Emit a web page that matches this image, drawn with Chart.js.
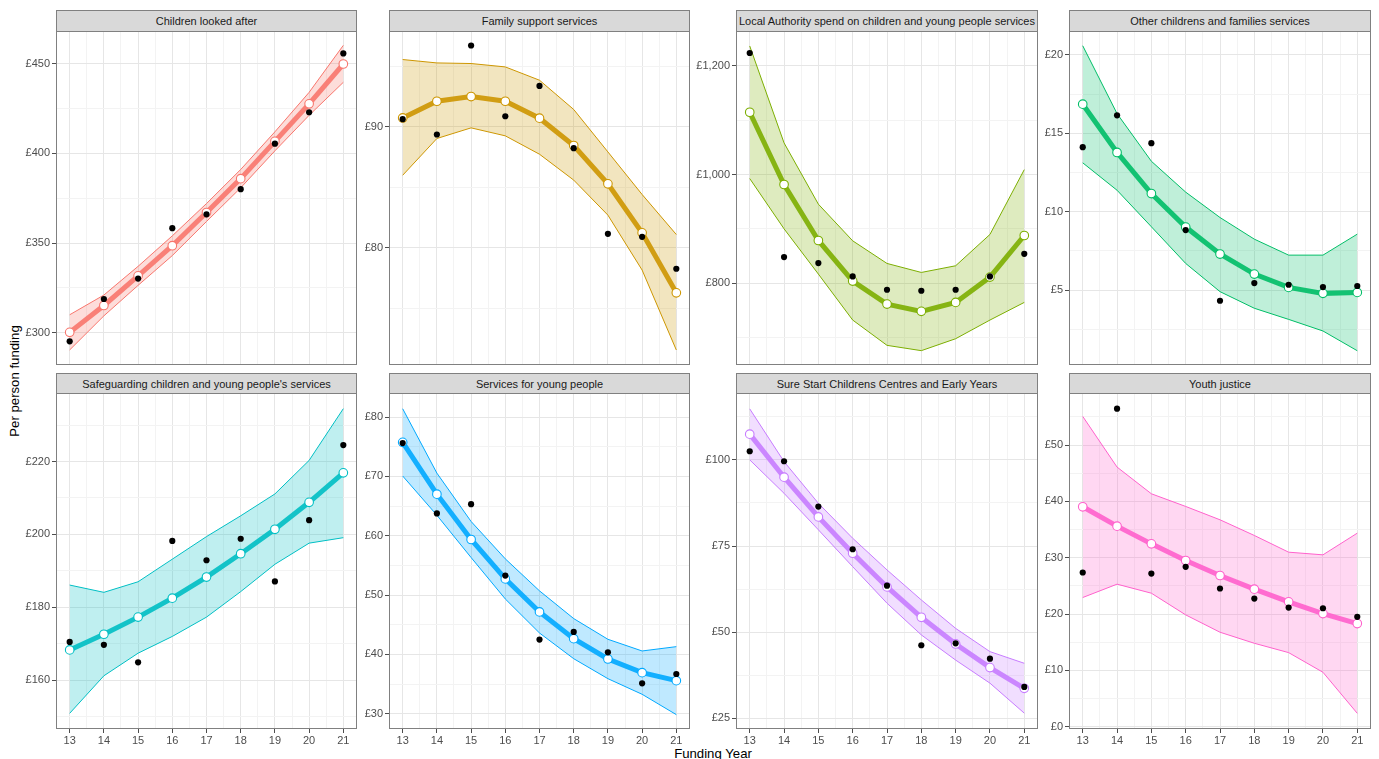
<!DOCTYPE html>
<html>
<head>
<meta charset="utf-8">
<script src="https://cdn.jsdelivr.net/npm/chart.js@4/dist/chart.umd.min.js"></script>
<style>
  html, body { margin:0; padding:0; background:#fff; }
  body { width:1379px; height:759px; overflow:hidden; position:relative; font-family:"Liberation Sans", Arial, sans-serif; }
  canvas { position:absolute; }
  .strip { position:absolute; box-sizing:border-box; background:#D9D9D9; border:1px solid #808080;
           display:flex; align-items:center; justify-content:center; font-size:11px; color:#1a1a1a; white-space:nowrap; }
  .ytitle { position:absolute; left:15px; top:381px; transform:translate(-50%,-50%) rotate(-90deg);
            font-size:13.2px; color:#000; white-space:nowrap; line-height:1; }
  .xtitle { position:absolute; left:713px; top:747px; transform:translateX(-50%);
            font-size:13.2px; color:#000; white-space:nowrap; line-height:1; }
</style>
</head>
<body>
<div class="ytitle">Per person funding</div>
<div class="xtitle">Funding Year</div>
<script>
// ---------------- DATA ----------------
const years = [13, 14, 15, 16, 17, 18, 19, 20, 21];
const xTickLabels = [13, 14, 15, 16, 17, 18, 19, 20, 21];

// Children looked after
const claFit    = [300.2, 315.2, 331.7, 348.5, 367.0, 385.9, 406.7, 427.6, 449.8];
const claActual = [295.2, 318.8, 330.2, 358.3, 366.0, 380.0, 405.4, 422.9, 455.7];
const claUpper  = [310.0, 321.0, 337.0, 354.0, 372.0, 391.0, 412.0, 434.0, 460.2];
const claLower  = [290.4, 309.4, 326.4, 343.0, 362.0, 380.8, 401.4, 421.2, 439.6];
const claTicks  = [300, 350, 400, 450];

// Family support services
const fsFit     = [90.74, 92.12, 92.51, 92.12, 90.72, 88.46, 85.29, 81.24, 76.28];
const fsActual  = [90.64, 89.37, 96.73, 90.88, 93.39, 88.24, 81.16, 80.91, 78.27];
const fsUpper   = [95.57, 95.29, 95.24, 94.96, 93.86, 91.44, 87.93, 84.41, 81.10];
const fsLower   = [86.00, 89.04, 89.92, 89.26, 87.74, 85.60, 82.70, 78.16, 71.55];
const fsTicks   = [80, 90];

// Local Authority spend on children and young people services
const laFit     = [1114.7, 981.6, 878.5, 803.7, 761.3, 747.9, 764.4, 811.0, 887.7];
const laActual  = [1223.9, 847.9, 836.8, 812.3, 787.7, 785.9, 787.7, 812.3, 854.0];
const laUpper   = [1236.8, 1058.3, 945.4, 877.9, 836.2, 819.6, 831.9, 889.6, 1009.0];
const laLower   = [992.6, 900.0, 816.6, 731.9, 685.3, 675.5, 697.5, 731.9, 764.4];
const laTicks   = [800, 1000, 1200];

// Other childrens and families services
const ocFit     = [16.86, 13.78, 11.16, 9.02, 7.30, 6.02, 5.17, 4.79, 4.85];
const ocActual  = [14.12, 16.15, 14.37, 8.83, 4.32, 5.45, 5.34, 5.19, 5.26];
const ocUpper   = [20.59, 16.26, 13.22, 11.25, 9.63, 8.25, 7.23, 7.23, 8.57];
const ocLower   = [13.12, 11.37, 9.04, 6.70, 4.90, 3.84, 3.13, 2.39, 1.13];
const ocTicks   = [5, 10, 15, 20];

// Safeguarding children and young people's services
const sgFit     = [168.3, 172.6, 177.3, 182.5, 188.3, 194.7, 201.4, 208.8, 216.9];
const sgActual  = [170.5, 169.7, 164.9, 198.2, 192.9, 198.8, 187.1, 203.9, 224.5];
const sgUpper   = [186.1, 184.1, 187.0, 193.2, 199.4, 205.1, 211.1, 220.3, 234.5];
const sgLower   = [150.9, 161.2, 167.4, 172.0, 177.3, 184.3, 191.8, 197.6, 199.1];
const sgTicks   = [160, 180, 200, 220];

// Services for young people
const syFit     = [75.73, 67.00, 59.36, 52.72, 47.15, 42.65, 39.22, 36.92, 35.57];
const syActual  = [75.61, 63.75, 65.32, 53.28, 42.49, 43.78, 40.35, 35.12, 36.69];
const syUpper   = [81.40, 70.55, 62.40, 56.10, 50.70, 46.03, 42.54, 40.57, 41.30];
const syLower   = [70.06, 63.45, 56.32, 49.34, 43.60, 39.27, 35.90, 33.27, 29.84];
const syTicks   = [30, 40, 50, 60, 70, 80];

// Sure Start Childrens Centres and Early Years
const ssFit     = [107.45, 94.97, 83.45, 72.90, 63.13, 54.32, 46.58, 39.71, 33.71];
const ssActual  = [102.5, 99.6, 86.45, 74.06, 63.5, 46.2, 46.77, 42.32, 34.1];
const ssUpper   = [114.8, 99.5, 87.4, 77.26, 68.06, 59.35, 51.1, 44.35, 40.97];
const ssLower   = [100.0, 90.3, 79.7, 69.0, 58.4, 49.2, 41.9, 35.2, 26.5];
const ssTicks   = [25, 50, 75, 100];

// Youth justice
const yjFit     = [39.04, 35.60, 32.46, 29.50, 26.84, 24.41, 22.16, 20.08, 18.31];
const yjActual  = [27.37, 56.46, 27.19, 28.38, 24.53, 22.75, 21.15, 21.03, 19.50];
const yjUpper   = [55.09, 46.09, 41.35, 39.10, 36.73, 33.95, 30.98, 30.51, 34.36];
const yjLower   = [22.93, 25.30, 23.70, 19.85, 16.77, 14.81, 13.15, 9.66, 2.37];
const yjTicks   = [0, 10, 20, 30, 40, 50];

// ---------------- PANELS ----------------
const panels = [
  { title:"Children looked after", color:"#F8766D", fit:claFit, actual:claActual, upper:claUpper, lower:claLower, ticks:claTicks, ymin:282.0, ymax:468.2 },
  { title:"Family support services", color:"#CD9600", fit:fsFit, actual:fsActual, upper:fsUpper, lower:fsLower, ticks:fsTicks, ymin:70.31, ymax:97.93 },
  { title:"Local Authority spend on children and young people services", color:"#7CAE00", fit:laFit, actual:laActual, upper:laUpper, lower:laLower, ticks:laTicks, ymin:649.1, ymax:1264.4 },
  { title:"Other childrens and families services", color:"#00BE67", fit:ocFit, actual:ocActual, upper:ocUpper, lower:ocLower, ticks:ocTicks, ymin:0.22, ymax:21.53 },
  { title:"Safeguarding children and young people's services", color:"#00BFC4", fit:sgFit, actual:sgActual, upper:sgUpper, lower:sgLower, ticks:sgTicks, ymin:146.6, ymax:238.8 },
  { title:"Services for young people", color:"#00A9FF", fit:syFit, actual:syActual, upper:syUpper, lower:syLower, ticks:syTicks, ymin:27.42, ymax:84.05 },
  { title:"Sure Start Childrens Centres and Early Years", color:"#C77CFF", fit:ssFit, actual:ssActual, upper:ssUpper, lower:ssLower, ticks:ssTicks, ymin:21.9, ymax:119.4 },
  { title:"Youth justice", color:"#FF61CC", fit:yjFit, actual:yjActual, upper:yjUpper, lower:yjLower, ticks:yjTicks, ymin:-0.41, ymax:59.24 }
];

// layout (pixels)
const colLefts  = [56, 389, 736, 1069];
const colRights = [357, 690, 1038, 1371];
const stripTops = [10, 373];
const rowTops   = [31, 393];
const rowBottoms= [365, 729];

const FONT = "'Liberation Sans', Arial, sans-serif";

function rgba(hex, a) {
  const n = parseInt(hex.slice(1), 16);
  return `rgba(${(n>>16)&255},${(n>>8)&255},${n&255},${a})`;
}
function pts(arr) { return years.map((yr, i) => ({ x: yr, y: arr[i] })); }

const panelBorder = {
  id: 'panelBorder',
  afterDraw(chart) {
    const { ctx, chartArea: a } = chart;
    ctx.save();
    ctx.strokeStyle = '#808080';
    ctx.lineWidth = 1;
    ctx.strokeRect(a.left + 0.5, a.top + 0.5, a.right - a.left - 1, a.bottom - a.top - 1);
    ctx.restore();
  }
};

panels.forEach((p, idx) => {
  const row = Math.floor(idx / 4), col = idx % 4;
  const L = colLefts[col], R = colRights[col], T = rowTops[row], B = rowBottoms[row];
  const YW = 60, PADT = 14, PADR = 14;
  const XH = row === 1 ? 22 : 14;
  const cw = YW + (R - L) + PADR, ch = PADT + (B - T) + XH;

  const strip = document.createElement('div');
  strip.className = 'strip';
  strip.style.left = L + 'px';
  strip.style.top = stripTops[row] + 'px';
  strip.style.width = (R - L) + 'px';
  strip.style.height = (T - stripTops[row] + 1) + 'px';
  strip.textContent = p.title;
  document.body.appendChild(strip);

  const canvas = document.createElement('canvas');
  canvas.width = cw; canvas.height = ch;
  canvas.style.left = (L - YW) + 'px';
  canvas.style.top = (T - PADT) + 'px';
  canvas.style.width = cw + 'px';
  canvas.style.height = ch + 'px';
  document.body.appendChild(canvas);

  // y ticks: majors + minor midpoints
  const step = p.ticks.length > 1 ? p.ticks[1] - p.ticks[0] : 10;
  const yVals = [];
  for (let v = p.ticks[0] - step / 2; v <= p.ticks[p.ticks.length - 1] + step / 2 + 1e-9; v += step / 2) {
    if (v >= p.ymin && v <= p.ymax) yVals.push(Math.round(v * 1000) / 1000);
  }
  const isMajorY = v => p.ticks.some(t => Math.abs(t - v) < 1e-6);
  const xVals = [];
  for (let v = 13; v <= 21; v += 0.5) xVals.push(v);
  const isMajorX = v => xTickLabels.includes(v);

  new Chart(canvas, {
    type: 'line',
    data: {
      datasets: [
        { data: pts(p.actual), showLine: false, pointRadius: 3.1, pointBackgroundColor: '#000', pointBorderColor: '#000', pointBorderWidth: 0, order: 0 },
        { data: pts(p.fit), borderColor: rgba(p.color, 0.9), borderWidth: 5, tension: 0,
          pointRadius: 4.3, pointBackgroundColor: '#fff', pointBorderColor: p.color, pointBorderWidth: 1.1, order: 1 },
        { data: pts(p.upper), borderColor: p.color, borderWidth: 1, pointRadius: 0, tension: 0,
          fill: '+1', backgroundColor: rgba(p.color, 0.25), order: 2 },
        { data: pts(p.lower), borderColor: p.color, borderWidth: 1, pointRadius: 0, tension: 0, fill: false, order: 3 }
      ]
    },
    options: {
      responsive: false,
      animation: false,
      devicePixelRatio: 1,
      events: [],
      layout: { padding: { top: PADT, right: PADR, left: 0, bottom: 0 } },
      plugins: { legend: { display: false }, tooltip: { enabled: false }, filler: { drawTime: 'beforeDatasetsDraw' } },
      scales: {
        x: {
          type: 'linear', min: 12.6, max: 21.4,
          afterBuildTicks: s => { s.ticks = xVals.map(v => ({ value: v })); },
          afterFit: s => { s.height = XH; },
          border: { display: false },
          grid: {
            color: c => isMajorX(c.tick.value) ? '#E6E6E6' : '#F3F3F3',
            lineWidth: 1,
            drawTicks: row === 1,
            tickLength: 4,
            tickColor: c => isMajorX(c.tick.value) ? '#4d4d4d' : 'rgba(0,0,0,0)'
          },
          ticks: {
            display: row === 1, autoSkip: false, maxRotation: 0, minRotation: 0, padding: 1,
            color: '#4D4D4D', font: { size: 11, family: FONT },
            callback: v => isMajorX(v) ? String(v) : ''
          }
        },
        y: {
          type: 'linear', min: p.ymin, max: p.ymax,
          afterBuildTicks: s => { s.ticks = yVals.map(v => ({ value: v })); },
          afterFit: s => { s.width = YW; },
          border: { display: false },
          grid: {
            color: c => isMajorY(c.tick.value) ? '#E6E6E6' : '#F3F3F3',
            lineWidth: 1,
            drawTicks: true,
            tickLength: 4,
            tickColor: c => isMajorY(c.tick.value) ? '#4d4d4d' : 'rgba(0,0,0,0)'
          },
          ticks: {
            autoSkip: false, padding: 2,
            color: '#4D4D4D', font: { size: 11, family: FONT },
            callback: v => isMajorY(v) ? '£' + Number(v).toLocaleString('en-GB') : ''
          }
        }
      }
    },
    plugins: [panelBorder]
  });
});
</script>
</body>
</html>
